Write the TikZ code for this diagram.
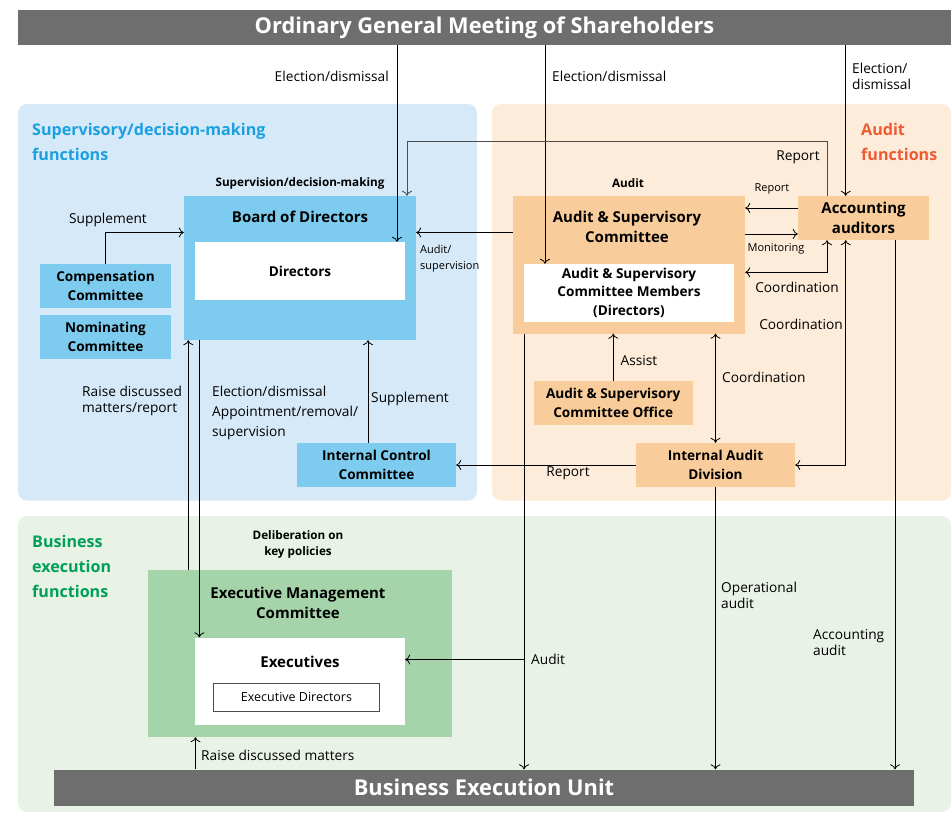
\documentclass[tikz,border=0pt]{standalone}
\usepackage{fontspec}
\setmainfont{Open Sans}
\usepackage{xcolor}
\usetikzlibrary{positioning,arrows.meta}
\definecolor{barGray}{HTML}{6E6E6E}
\definecolor{supBg}{HTML}{D6E9F8}
\definecolor{supBox}{HTML}{7DCCF0}
\definecolor{supText}{HTML}{1AA0E0}
\definecolor{audBg}{HTML}{FDECD9}
\definecolor{audBox}{HTML}{F9CD9B}
\definecolor{audText}{HTML}{F05A32}
\definecolor{busBg}{HTML}{E8F2E6}
\definecolor{busBox}{HTML}{A6D4AA}
\definecolor{busText}{HTML}{00A05A}

\tikzset{
	>={To[length=5pt,width=10pt]},
	graybar/.style={fill=barGray, text=white, inner sep=0pt, font=\fontsize{21.8}{26}\selectfont\bfseries},
	unitbox/.style={inner sep=0pt, align=center, font=\fontsize{13.6}{18.5}\selectfont\bfseries},
	bluebox/.style={unitbox, fill=supBox},
	orangebox/.style={unitbox, fill=audBox},
	whitebox/.style={unitbox, fill=white},
	boxtitle/.style={inner sep=0pt, align=center, font=\fontsize{15}{20}\selectfont\bfseries},
	lbl/.style={inner sep=0pt, align=left, font=\fontsize{13.7}{16}\selectfont},
	smalllbl/.style={inner sep=0pt, align=left, font=\fontsize{11}{16}\selectfont},
	boldlbl/.style={inner sep=0pt, align=center, font=\fontsize{11.7}{16}\selectfont\bfseries},
	areatitle/.style={inner sep=0pt, align=left, anchor=west, font=\fontsize{16.1}{25}\selectfont\bfseries},
	link/.style={line width=0.8pt}
}

\begin{document}
\begin{tikzpicture}[x=1pt, y=-1pt]
		\useasboundingbox (0,0) rectangle (951,814);

		\fill[color=supBg, rounded corners=9pt] (18,104) rectangle (477,500.5);
		\fill[color=audBg, rounded corners=9pt] (492,104) rectangle (951,500.5);
		\fill[color=busBg, rounded corners=9pt] (18,516) rectangle (951,812);

		\node[areatitle, text=supText] (suptitle) at (32,141.5) {Supervisory/decision-making\\functions};
		\node[areatitle, text=audText] (audtitle) at (861,141.5) {Audit\\functions};
		\node[areatitle, text=busText] (bustitle) at (32,566) {Business\\execution\\functions};

		\node[graybar, minimum width=933, minimum height=35] (ogm) at (484.5,27.5) {Ordinary General Meeting of Shareholders};
		\node[graybar, minimum width=860, minimum height=36] (beu) at (484,787.5) {Business Execution Unit};

		\node[bluebox, minimum width=232, minimum height=144] (board) at (300,268) {};
		\node[boxtitle] (boardtitle) at (300,217) {Board of Directors};
		\node[whitebox, minimum width=210, minimum height=58] (dirs) at (300,271) {Directors};
		\node[boldlbl] (supdm) at (300,183) {Supervision/decision-making};

		\node[bluebox, minimum width=131, minimum height=44] (comp) at (105.5,286) {Compensation\\Committee};
		\node[bluebox, minimum width=131, minimum height=44] (nom) at (105.5,337) {Nominating\\Committee};
		\node[bluebox, minimum width=159, minimum height=44] (icc) at (376.5,465) {Internal Control\\Committee};

		\node[orangebox, minimum width=232, minimum height=137.5] (asc) at (629,264.75) {};
		\node[boxtitle] (asctitle) at (627,227) {Audit \& Supervisory\\Committee};
		\node[whitebox, minimum width=210, minimum height=57.5] (ascm) at (629,292.75) {Audit \& Supervisory\\Committee Members\\(Directors)};
		\node[boldlbl] (audit) at (628,183) {Audit};
		\node[orangebox, font=\fontsize{15}{20}\selectfont\bfseries, minimum width=131, minimum height=44] (acc) at (863.5,218) {Accounting\\auditors};
		\node[orangebox, minimum width=158.5, minimum height=43.5] (office) at (613.25,402.75) {Audit \& Supervisory\\Committee Office};
		\node[orangebox, minimum width=159, minimum height=44] (iad) at (715.5,465) {Internal Audit\\Division};

		\node[fill=busBox, minimum width=304, minimum height=167] (emc) at (300,653.5) {};
		\node[boxtitle] (emctitle) at (298,603) {Executive Management\\Committee};
		\node[fill=white, minimum width=210, minimum height=87.5] (execs) at (300,681.25) {};
		\node[boxtitle] (execstitle) at (300,662) {Executives};
		\node[draw=black!70, line width=0.8pt, fill=white, minimum width=166, minimum height=28, font=\fontsize{12.5}{16}\selectfont] (execdirs) at (296.5,697) {Executive Directors};
		\node[boldlbl] (delib) at (298,544) {Deliberation on\\key policies};

		\coordinate (xelA) at (397,0);
		\coordinate (xelB) at (545,0);
		\coordinate (xelC) at (845.7,0);
		\coordinate (yboard) at (0,232.5);
		\coordinate (reptop) at (827,141.7);
		\coordinate (xrepB) at (407,0);
		\coordinate (yrep) at (0,208);
		\coordinate (ymon) at (0,234);
		\coordinate (ycoord) at (0,272.3);
		\coordinate (xsupp) at (368,0);
		\coordinate (xraise) at (188.3,0);
		\coordinate (xelect) at (199.3,0);
		\coordinate (xaudit) at (524,0);
		\coordinate (yaudit) at (0,659.5);
		\coordinate (xaccaud) at (895,0);
		\coordinate (xraiseB) at (195.5,0);

		\draw[link,->] (ogm.south -| xelA) -- (xelA |- dirs.north);
		\draw[link,->] (ogm.south -| xelB) -- (xelB |- ascm.north);
		\draw[link,->] (ogm.south -| xelC) -- (xelC |- acc.north);
		\draw[link,->] (comp.north) |- (board.west |- yboard);
		\draw[link,->] (asc.west |- yboard) -- (board.east |- yboard);
		\draw[link,->, draw=black!70] (acc.north -| reptop) -- (reptop) -| (xrepB |- board.north);
		\draw[link,->] (acc.west |- yrep) -- (asc.east |- yrep);
		\draw[link,->] (asc.east |- ymon) -- (acc.west |- ymon);
		\draw[link,<->] (asc.east |- ycoord) -| (reptop |- acc.south);
		\draw[link,<->] (iad.east) -| (xelC |- acc.south);
		\draw[link,<->] (iad.north |- asc.south) -- (iad.north);
		\draw[link,->] (office.north) -- (office.north |- asc.south);
		\draw[link,->] (iad.west) -- (icc.east);
		\draw[link,->] (icc.north -| xsupp) -- (xsupp |- board.south);
		\draw[link,->] (xraise |- emc.north) -- (xraise |- board.south);
		\draw[link,->] (xelect |- board.south) -- (xelect |- execs.north);
		\draw[link,->] (xaudit |- asc.south) -- (xaudit |- beu.north);
		\draw[link,->] (xaudit |- yaudit) -- (execs.east |- yaudit);
		\draw[link,->] (iad.south) -- (iad.south |- beu.north);
		\draw[link,->] (xaccaud |- acc.south) -- (xaccaud |- beu.north);
		\draw[link,->] (xraiseB |- beu.north) -- (xraiseB |- emc.south);

		\node[lbl, anchor=east] (elA) at (389,76) {Election/dismissal};
		\node[lbl, anchor=west] (elB) at (552,76) {Election/dismissal};
		\node[lbl, anchor=west] (elC) at (852,76) {Election/\\dismissal};
		\node[lbl] (suppA) at (108,220) {Supplement};
		\node[smalllbl, anchor=west] (audsup) at (420,259) {Audit/\\supervision};
		\node[lbl] (repA) at (798,157) {Report};
		\node[smalllbl] (repB) at (772,189) {Report};
		\node[smalllbl] (mon) at (776,249) {Monitoring};
		\node[lbl] (coordA) at (797,287) {Coordination};
		\node[lbl] (coordB) at (801,324) {Coordination};
		\node[lbl] (assist) at (639,361) {Assist};
		\node[lbl, anchor=west] (coordC) at (722,377) {Coordination};
		\node[lbl] (repC) at (568,473) {Report};
		\node[lbl] (suppB) at (410,399) {Supplement};
		\node[lbl, anchor=west] (raiseA) at (82,401) {Raise discussed\\matters/report};
		\node[lbl, anchor=west, font=\fontsize{13.7}{20}\selectfont] (elD) at (212,413) {Election/dismissal\\Appointment/removal/\\supervision};
		\node[lbl, anchor=west] (audB) at (531,659) {Audit};
		\node[lbl, anchor=west] (opaud) at (721,595) {Operational\\audit};
		\node[lbl, anchor=west] (accaud) at (813,643) {Accounting\\audit};
		\node[lbl, anchor=west] (raiseB) at (201,755) {Raise discussed matters};
\end{tikzpicture}
\end{document}
